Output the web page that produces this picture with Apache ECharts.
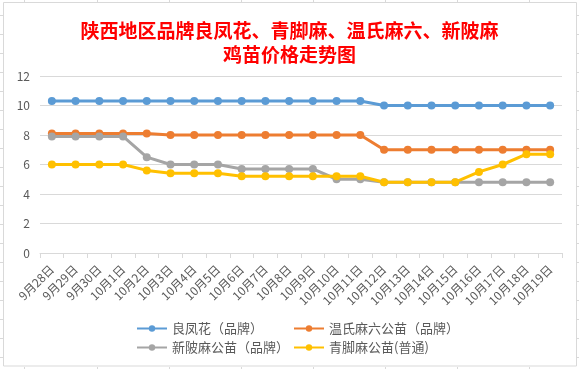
<!DOCTYPE html>
<html>
<head>
<meta charset="utf-8">
<script src="https://cdn.jsdelivr.net/npm/echarts@6/dist/echarts.min.js"></script>
<style>
html,body{margin:0;padding:0;background:#fff;}
#main{width:579px;height:369px;}
</style>
</head>
<body>
<div id="main"></div>
<script>
const categories = ['9月28日','9月29日','9月30日','10月1日','10月2日','10月3日','10月4日','10月5日','10月6日','10月7日','10月8日','10月9日','10月10日','10月11日','10月12日','10月13日','10月14日','10月15日','10月16日','10月17日','10月18日','10月19日'];
const liangfenghua = [10.3,10.3,10.3,10.3,10.3,10.3,10.3,10.3,10.3,10.3,10.3,10.3,10.3,10.3,10.0,10.0,10.0,10.0,10.0,10.0,10.0,10.0];
const wenshi = [8.1,8.1,8.1,8.1,8.1,8.0,8.0,8.0,8.0,8.0,8.0,8.0,8.0,8.0,7.0,7.0,7.0,7.0,7.0,7.0,7.0,7.0];
const xinbo = [7.9,7.9,7.9,7.9,6.5,6.0,6.0,6.0,5.7,5.7,5.7,5.7,5.0,5.0,4.8,4.8,4.8,4.8,4.8,4.8,4.8,4.8];
const qingjiao = [6.0,6.0,6.0,6.0,5.6,5.4,5.4,5.4,5.2,5.2,5.2,5.2,5.2,5.2,4.8,4.8,4.8,4.8,5.5,6.0,6.7,6.7];
const seriesNames = ['良凤花（品牌）','温氏麻六公苗（品牌）','新陂麻公苗（品牌）','青脚麻公苗(普通)'];
const yTicks = {min:0, max:12, interval:2};
const titleText = '陕西地区品牌良凤花、青脚麻、温氏麻六、新陂麻\n鸡苗价格走势图';

const colors = ['#5B9BD5','#ED7D31','#A5A5A5','#FFC000'];
const dataList = [liangfenghua, wenshi, xinbo, qingjiao];

const chart = echarts.init(document.getElementById('main'), null, {renderer:'canvas'});

const decor = [];
decor.push({type:'rect', shape:{x:3.5,y:2.5,width:573,height:363.5}, style:{fill:'none', stroke:'#d9d9d9', lineWidth:1}, silent:true});
[24,97,169,241,313,385,457,529].forEach(x=>{
  decor.push({type:'line', shape:{x1:x+0.5,y1:0,x2:x+0.5,y2:2}, style:{stroke:'#d9d9d9'}, silent:true});
  decor.push({type:'line', shape:{x1:x+0.5,y1:367,x2:x+0.5,y2:369}, style:{stroke:'#d9d9d9'}, silent:true});
});
for(let y=15; y<369; y+=19){
  decor.push({type:'line', shape:{x1:0,y1:y+0.5,x2:3,y2:y+0.5}, style:{stroke:'#d9d9d9'}, silent:true});
  decor.push({type:'line', shape:{x1:577,y1:y+0.5,x2:579,y2:y+0.5}, style:{stroke:'#d9d9d9'}, silent:true});
}

const legendPos = [[136,322],[293,322],[136,341],[293,341]];
const legends = seriesNames.map((n,i)=>({
  data:[n], left:legendPos[i][0], top:legendPos[i][1], orient:'horizontal',
  itemWidth:30, itemHeight:8, itemGap:4, padding:0,
  textStyle:{color:'#595959', fontSize:13, fontFamily:'Noto Sans CJK SC'}
}));

chart.setOption({
  animation:false,
  backgroundColor:'#ffffff',
  color:colors,
  title:{
    text:titleText, left:'center', top:14,
    textStyle:{color:'#ff0000', fontSize:19, fontWeight:'bold', lineHeight:24, fontFamily:'Noto Sans CJK SC'}
  },
  legend:legends,
  grid:{left:40, right:17, top:76, bottom:116, containLabel:false},
  xAxis:{
    type:'category', data:categories, boundaryGap:true,
    axisLine:{lineStyle:{color:'#d9d9d9', width:1}},
    axisTick:{show:true, length:5, lineStyle:{color:'#d9d9d9'}},
    axisLabel:{rotate:45, fontSize:12, color:'#595959', margin:14, interval:0, fontFamily:'Noto Sans CJK SC'}
  },
  yAxis:{
    type:'value', min:yTicks.min, max:yTicks.max, interval:yTicks.interval,
    axisLine:{show:false}, axisTick:{show:false},
    splitLine:{lineStyle:{color:'#d9d9d9', width:1}},
    axisLabel:{fontSize:12, color:'#595959', margin:10, fontFamily:'Noto Sans CJK SC'}
  },
  graphic:decor,
  series:seriesNames.map((n,i)=>({
    name:n, type:'line', data:dataList[i],
    symbol:'circle', symbolSize:8,
    lineStyle:{width:3, color:colors[i]},
    itemStyle:{color:colors[i]}
  }))
});
</script>
</body>
</html>
